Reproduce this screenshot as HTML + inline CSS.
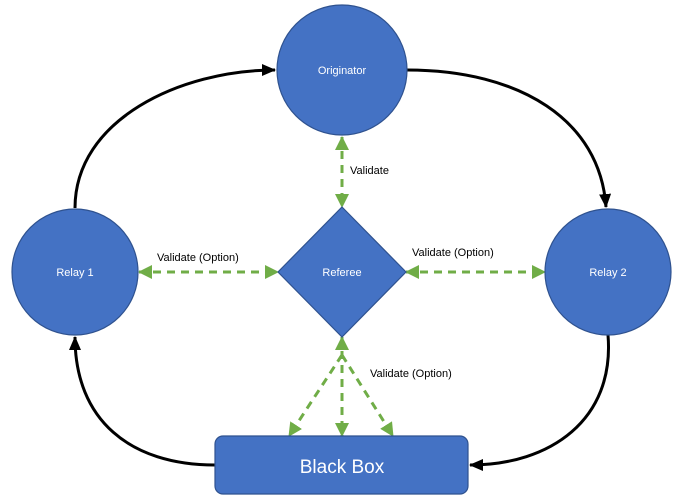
<!DOCTYPE html>
<html><head><style>body{margin:0;background:#fff}svg{display:block}</style></head><body>
<svg width="687" height="504" viewBox="0 0 687 504" xmlns="http://www.w3.org/2000/svg" font-family="Liberation Sans, sans-serif">
<defs>
<marker id="ab" markerWidth="14" markerHeight="12" refX="13" refY="6" orient="auto" markerUnits="userSpaceOnUse" viewBox="0 0 14 12"><path d="M0,0 L14,6 L0,12 z" fill="#000"/></marker>
<marker id="ag" markerWidth="14" markerHeight="14" refX="13" refY="7" orient="auto-start-reverse" markerUnits="userSpaceOnUse" viewBox="0 0 14 14"><path d="M0,0 L14,7 L0,14 z" fill="#70AD47"/></marker>
</defs>
<g fill="none" stroke="#000" stroke-width="3">
<path d="M75,208 C75,120 180,70 275,70" marker-end="url(#ab)"/>
<path d="M407,70 C520,70 600,120 606,207" marker-end="url(#ab)"/>
<path d="M608,335 C615,420 550,465 470,465" marker-end="url(#ab)"/>
<path d="M215,465 C130,465 75,420 75,337" marker-end="url(#ab)"/>
</g>
<g fill="none" stroke="#70AD47" stroke-width="3" stroke-dasharray="8,6">
<path d="M342,137 L342,207" marker-start="url(#ag)" marker-end="url(#ag)"/>
<path d="M139,272 L278,272" marker-start="url(#ag)" marker-end="url(#ag)"/>
<path d="M406,272 L545,272" marker-start="url(#ag)" marker-end="url(#ag)"/>
<path d="M342,337 L342,436" marker-start="url(#ag)" marker-end="url(#ag)"/>
<path d="M342,355 L289,436" marker-end="url(#ag)"/>
<path d="M342,355 L393,436" marker-end="url(#ag)"/>
</g>
<g fill="#4472C4" stroke="#2F528F" stroke-width="1.2">
<circle cx="342" cy="70" r="65"/>
<circle cx="75" cy="272" r="63"/>
<circle cx="608" cy="272" r="63"/>
<path d="M342,207 L406,272 L342,337 L278,272 z"/>
<rect x="215" y="436" width="253" height="58" rx="8"/>
</g>
<g fill="#fff" font-size="11" text-anchor="middle">
<text x="342" y="74">Originator</text>
<text x="75" y="276">Relay 1</text>
<text x="608" y="276">Relay 2</text>
<text x="342" y="276">Referee</text>
<text x="342" y="473" font-size="19">Black Box</text>
</g>
<g fill="#000" font-size="11">
<text x="350" y="174">Validate</text>
<text x="157" y="261">Validate (Option)</text>
<text x="412" y="256">Validate (Option)</text>
<text x="370" y="377">Validate (Option)</text>
</g>
</svg>
</body></html>
